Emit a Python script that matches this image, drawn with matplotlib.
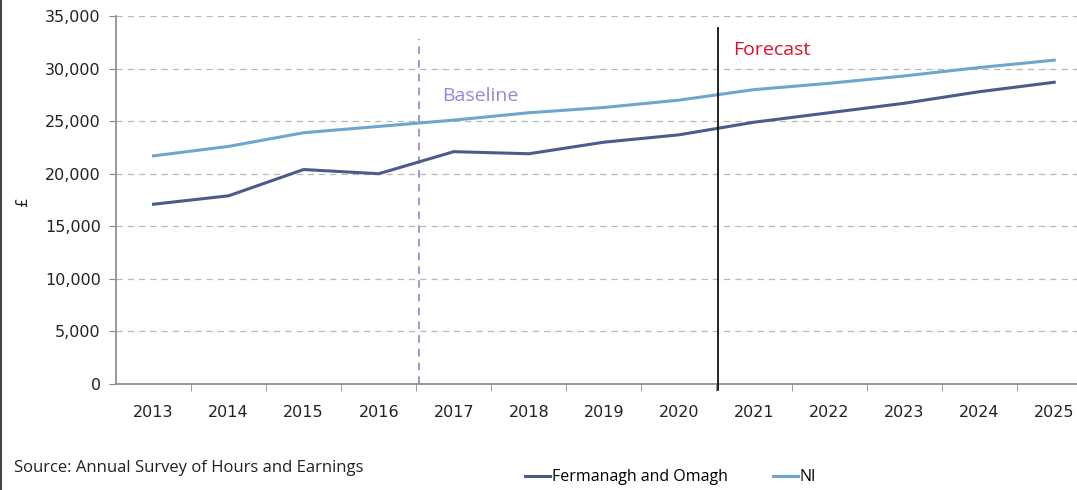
import matplotlib
matplotlib.use("Agg")
import matplotlib.pyplot as plt
from matplotlib.lines import Line2D
from matplotlib.ticker import FuncFormatter, MultipleLocator

years = ["2013", "2014", "2015", "2016", "2017", "2018", "2019",
         "2020", "2021", "2022", "2023", "2024", "2025"]
fermanagh = [17100, 17900, 20400, 20000, 22100, 21900, 23000,
             23700, 24900, 25800, 26700, 27800, 28700]
ni = [21700, 22600, 23900, 24500, 25100, 25800, 26300,
      27000, 28000, 28600, 29300, 30100, 30800]

c_ferm = "#4b5b8c"
c_ni = "#6fa6cb"

fig = plt.figure(figsize=(10.77, 4.9), dpi=100)
ax = fig.add_axes([0.1077, 0.2163, 0.906, 0.7510])

x = list(range(len(years)))
ax.plot(x, fermanagh, color=c_ferm, lw=2.2, zorder=3)
ax.plot(x, ni, color=c_ni, lw=2.2, zorder=3)

ax.set_xlim(-0.5, len(years) - 0.5)
ax.set_ylim(0, 35000)
ax.yaxis.set_major_locator(MultipleLocator(5000))
ax.yaxis.set_major_formatter(FuncFormatter(lambda v, p: f"{int(v):,}"))
ax.set_xticks(x)
ax.set_xticklabels(years)
ax.set_xticks([i - 0.5 for i in range(1, len(years))], minor=True)
ax.tick_params(axis="x", which="major", length=0, pad=15, labelsize=11.5, colors="#222222")
ax.tick_params(axis="x", which="minor", length=5, color="#888888")
ax.tick_params(axis="y", length=5, color="#888888", labelsize=11.5, colors="#222222", pad=6)

ax.grid(axis="y", linestyle=(0, (5, 4)), color="#b8b8b8", lw=0.9)
ax.set_axisbelow(True)
for s in ["top", "right"]:
    ax.spines[s].set_visible(False)
ax.spines["left"].set_color("#888888")
ax.spines["bottom"].set_color("#888888")
ax.spines["left"].set_linewidth(1.2)
ax.spines["bottom"].set_linewidth(1.2)

# baseline / forecast markers
ax.plot([3.54, 3.54], [0, 32800], color="#8878d0", lw=1.1, ls=(0, (5, 4)), zorder=2)
ax.plot([7.52, 7.52], [-600, 33900], color="#111111", lw=1.3, zorder=4, clip_on=False)
ax.text(3.84, 27400, "Baseline", color="#9a86d8", fontsize=14, family="Open Sans", va="center")
ax.text(7.72, 31800, "Forecast", color="#e0102a", fontsize=14, family="Open Sans", va="center")

fig.text(0.021, 0.59, "£", rotation=90, fontsize=11, ha="center", va="center", color="#222222")
fig.text(0.013, 0.045, "Source: Annual Survey of Hours and Earnings", fontsize=12,
         family="Open Sans", va="center", color="#222222")

handles = [Line2D([], [], color=c_ferm, lw=2.2), Line2D([], [], color=c_ni, lw=2.2)]
fig.legend(handles, ["Fermanagh and Omagh", "NI"], loc="center left", bbox_to_anchor=(0.474, 0.026),
           ncol=2, frameon=False, handlelength=1.6, handletextpad=0.1, columnspacing=2.8,
           prop={"family": "Open Sans", "size": 11.5})

fig.add_artist(Line2D([0.001, 0.001], [0, 1], transform=fig.transFigure, color="#444444", lw=1.5))

fig.savefig("out.png", dpi=100)
